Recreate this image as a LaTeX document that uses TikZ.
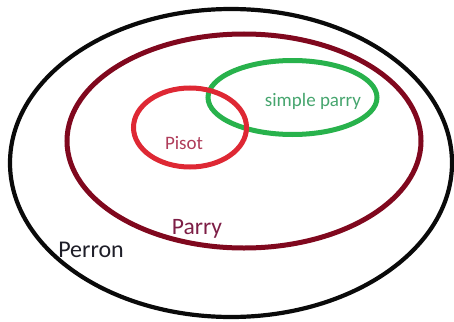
\documentclass[tikz,border=0pt]{standalone}
\usepackage{fontspec}
\setmainfont{Carlito}
\definecolor{perronc}{RGB}{10,10,10}
\definecolor{parryc}{RGB}{128,8,30}
\definecolor{pisotc}{RGB}{222,40,52}
\definecolor{simplec}{RGB}{40,178,76}
\definecolor{pisottext}{RGB}{175,60,90}
\definecolor{simpletext}{RGB}{70,165,110}
\definecolor{parrytext}{RGB}{125,30,70}
\definecolor{perrontext}{RGB}{30,30,40}
\begin{document}
\begin{tikzpicture}[x=1pt,y=-1pt,
  setline/.style={line width=#1, line cap=round},
  lbl/.style={inner sep=0pt, font=\fontsize{#1}{#1}\selectfont}]
\useasboundingbox (0,0) rectangle (454,321);
\draw[setline=4.2pt, perronc] (231,163) ellipse [x radius=221, y radius=154];
\draw[setline=5pt, parryc] (244,141) ellipse [x radius=177, y radius=107];
\draw[setline=5pt, simplec] (292.5,97.5) ellipse [x radius=84.5, y radius=37];
\draw[setline=5pt, pisotc] (190,127.5) ellipse [x radius=56.5, y radius=39.5];
\node[lbl=19, text=simpletext] (simple) at (313,101) {simple parry};
\node[lbl=19, text=pisottext] (pisot) at (184,143) {Pisot};
\node[lbl=23.5, text=parrytext] (parry) at (197,229) {Parry};
\node[lbl=24, text=perrontext] (perron) at (91,250) {Perron};
\end{tikzpicture}
\end{document}
